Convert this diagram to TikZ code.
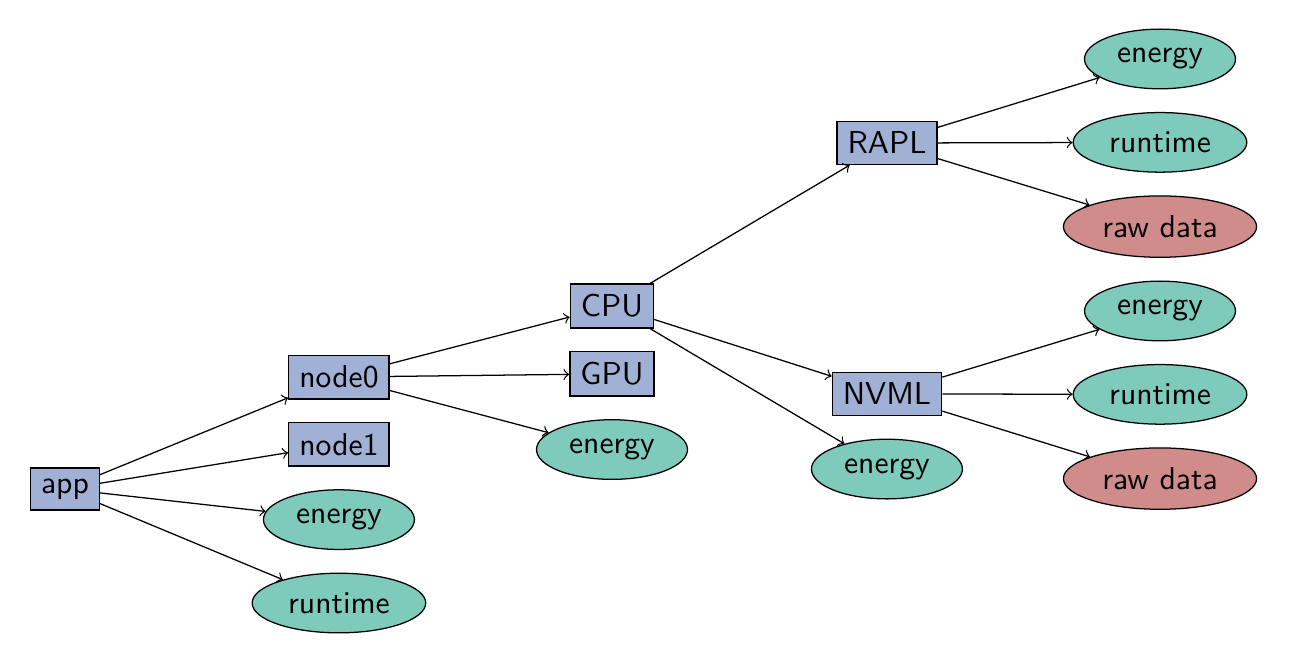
\documentclass[tikz,border=0pt]{standalone}
\usepackage{tikz}
\usetikzlibrary{positioning}
\usetikzlibrary{shapes.geometric}
\usepackage{xcolor}
\definecolor{boxblue}{RGB}{161,176,213}
\definecolor{metricgreen}{RGB}{126,203,188}
\definecolor{rawred}{RGB}{208,140,138}

\begin{document}
\begin{tikzpicture}[
    node distance=0.25cm,
    every node/.style={draw=black, font=\sffamily},
    bluenode/.style={rectangle, fill=boxblue},
    greennode/.style={ellipse, fill=metricgreen},
    rednode/.style={ellipse, fill=rawred}
]
\useasboundingbox (-0.722,-1.911) rectangle (13.678,5.433);
% Graph vertices
\node[bluenode] (app) at (0,0) {app};
\node[bluenode] (node0) at (3.044,1.244) {node0};
\node[bluenode, below=of node0] (node1) {node1};
\node[greennode, below=of node1] (appenergy) {energy};
\node[greennode, below=of appenergy] (appruntime) {runtime};
\node[bluenode] (cpu) at (6.078,2.033) {CPU};
\node[bluenode, below=of cpu] (gpu) {GPU};
\node[greennode, below=of gpu] (nodeenergy) {energy};
\node[bluenode] (rapl) at (9.133,3.844) {RAPL};
\node[bluenode] (nvml) at (9.133,1.056) {NVML};
\node[greennode, below=of nvml] (cpuenergy) {energy};
\node[greennode] (raplenergy) at (12.167,4.778) {energy};
\node[greennode, below=of raplenergy] (raplruntime) {runtime};
\node[rednode, below=of raplruntime] (raplraw) {raw data};
\node[greennode] (nvmlenergy) at (12.167,1.978) {energy};
\node[greennode, below=of nvmlenergy] (nvmlruntime) {runtime};
\node[rednode, below=of nvmlruntime] (nvmlraw) {raw data};
% Edges
\draw[->] (app) -- (node0);
\draw[->] (app) -- (node1);
\draw[->] (app) -- (appenergy);
\draw[->] (app) -- (appruntime);
\draw[->] (node0) -- (cpu);
\draw[->] (node0) -- (gpu);
\draw[->] (node0) -- (nodeenergy);
\draw[->] (cpu) -- (rapl);
\draw[->] (cpu) -- (nvml);
\draw[->] (cpu) -- (cpuenergy);
\draw[->] (rapl) -- (raplenergy);
\draw[->] (rapl) -- (raplruntime);
\draw[->] (rapl) -- (raplraw);
\draw[->] (nvml) -- (nvmlenergy);
\draw[->] (nvml) -- (nvmlruntime);
\draw[->] (nvml) -- (nvmlraw);

\end{tikzpicture}
\end{document}
